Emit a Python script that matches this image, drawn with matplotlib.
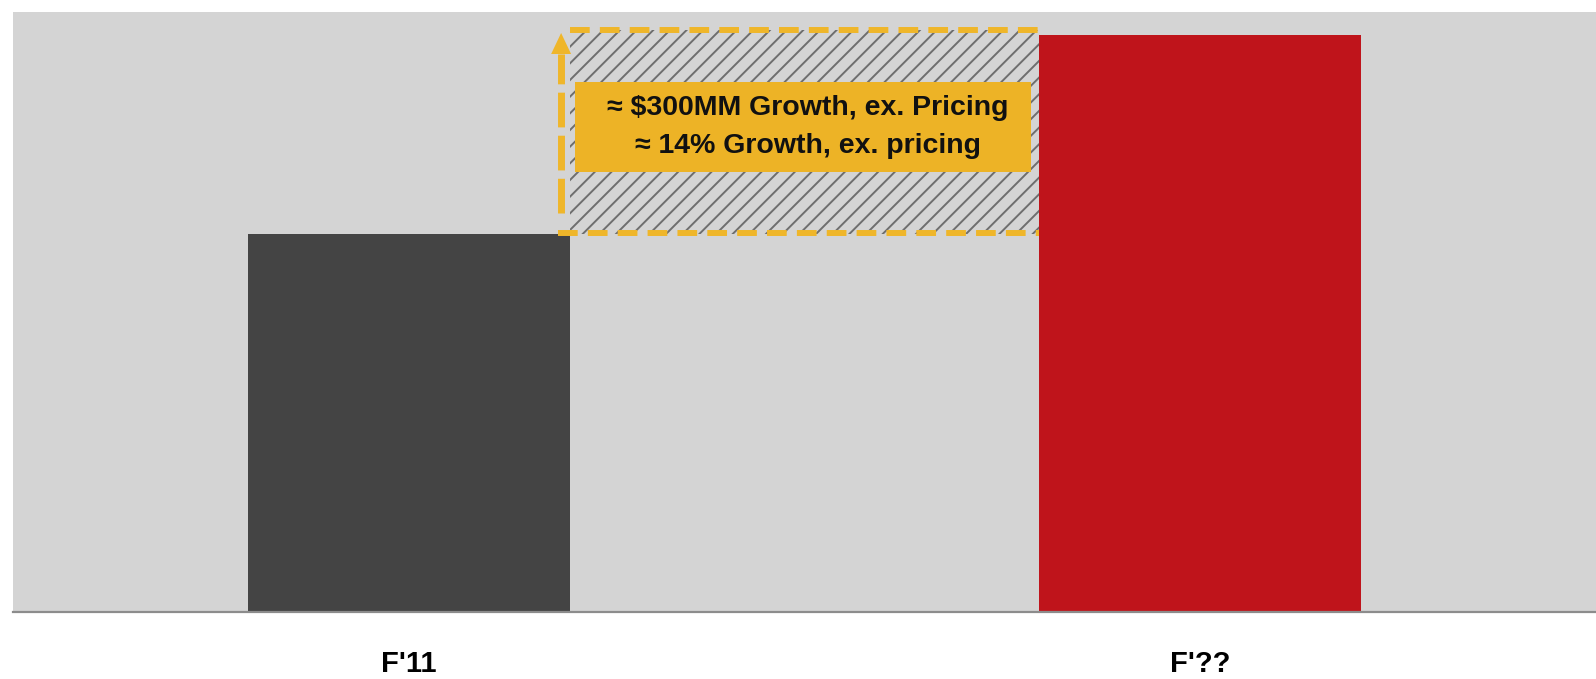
import matplotlib.pyplot as plt
from matplotlib.patches import Rectangle, Polygon

# Chart data
categories = ["F'11", "F'??"]
values = [63.0, 96.2]
bar_colors = ["#444444", "#BF141B"]
callout_lines = ["≈ $300MM Growth, ex. Pricing", "≈ 14% Growth, ex. pricing"]

GOLD = "#EFB62A"
BOX_GOLD = "#EDB326"
BG = "#D4D4D4"

plt.rcParams['font.family'] = ['Liberation Sans', 'DejaVu Sans']

fig = plt.figure(figsize=(15.96, 6.79), dpi=100)
fig.patch.set_facecolor("white")
ax = fig.add_axes([13 / 1596, 67 / 679, 1 - 13 / 1596, 600 / 679])
ax.set_facecolor(BG)

x = list(range(len(categories)))
width = 0.407
ax.bar(x, values, width=width, color=bar_colors, zorder=2)

ax.set_xlim(-0.5, 1.5)
ax.set_ylim(0, 100)
ax.set_yticks([])
ax.set_xticks(x)
ax.set_xticklabels(categories, fontsize=21, fontweight="bold")
ax.tick_params(axis="x", length=0, pad=27)
for side in ("top", "left", "right"):
    ax.spines[side].set_visible(False)
ax.spines["bottom"].set_color("#8C8C8C")
ax.spines["bottom"].set_linewidth(1.6)

# Growth gap: hatched band between the two bars
base, target = values
gap_left = x[0] + width / 2
gap_right = x[1] - width / 2
band_top = target + 0.8
plt.rcParams['hatch.linewidth'] = 1.4
band = Rectangle((gap_left, base), gap_right - gap_left, band_top - base,
                 facecolor="none", edgecolor="#6E6E6E", hatch="//",
                 linewidth=0, zorder=3)
ax.add_patch(band)

dash = (0, (3.3, 1.7))
ax.plot([gap_left, gap_right], [band_top, band_top], color=GOLD, lw=4.3,
        linestyle=dash, zorder=4, dash_capstyle="butt")
ax.plot([gap_left - 0.015, gap_right], [base + 0.2, base + 0.2], color=GOLD, lw=4.3,
        linestyle=dash, zorder=4, dash_capstyle="butt")

# Upward arrow from the F'11 level
arrow_x = gap_left - 0.011
ax.plot([arrow_x, arrow_x], [base + 3.5, target - 3.2], color=GOLD, lw=5,
        linestyle=(0, (5.0, 1.2)), zorder=4, dash_capstyle="butt")
head = Polygon([[arrow_x - 0.0126, target - 3.2], [arrow_x + 0.0126, target - 3.2],
                [arrow_x, target + 0.3]], closed=True, facecolor=GOLD,
               edgecolor="none", zorder=4)
ax.add_patch(head)

# Callout box with the growth figures
mid = (gap_left + gap_right) / 2
box = Rectangle((gap_left + 0.0065, 73.3), gap_right - gap_left - 0.0165, 15.0,
                facecolor=BOX_GOLD, edgecolor="none", zorder=5)
ax.add_patch(box)
ax.text(mid + 0.004, 84.0, callout_lines[0], ha="center", va="center", fontsize=20.5,
        fontweight="bold", color="#111111", zorder=6)
ax.text(mid + 0.004, 77.6, callout_lines[1], ha="center", va="center", fontsize=20.5,
        fontweight="bold", color="#111111", zorder=6)

fig.savefig("out.png", dpi=100, facecolor="white")
